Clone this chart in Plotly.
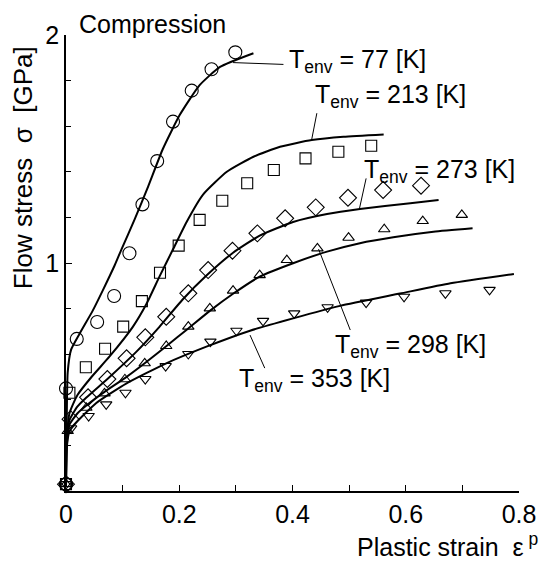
import plotly.graph_objects as go

# measured points (open symbols), plastic strain vs flow stress [GPa]
eps_77_pts = [0.0, 0.0, 0.019, 0.055, 0.085, 0.112, 0.135, 0.161, 0.189, 0.222, 0.257, 0.299]
sig_77_pts = [0.03, 0.45, 0.667, 0.741, 0.855, 1.043, 1.257, 1.447, 1.620, 1.756, 1.850, 1.924]

eps_213_pts = [0.0, 0.006, 0.035, 0.069, 0.101, 0.134, 0.166, 0.199, 0.236, 0.276, 0.320, 0.367, 0.423, 0.481, 0.539]
sig_213_pts = [0.03, 0.431, 0.543, 0.624, 0.721, 0.833, 0.957, 1.076, 1.189, 1.273, 1.350, 1.408, 1.459, 1.488, 1.514]

eps_273_pts = [0.0, 0.008, 0.039, 0.073, 0.107, 0.140, 0.177, 0.216, 0.251, 0.294, 0.338, 0.387, 0.441, 0.498, 0.560, 0.627]
sig_273_pts = [0.03, 0.315, 0.411, 0.491, 0.582, 0.674, 0.764, 0.867, 0.969, 1.054, 1.130, 1.196, 1.244, 1.286, 1.320, 1.339]

eps_298_pts = [0.0, 0.003, 0.036, 0.068, 0.104, 0.139, 0.177, 0.216, 0.254, 0.295, 0.342, 0.390, 0.444, 0.499, 0.562, 0.630, 0.699]
sig_298_pts = [0.03, 0.263, 0.365, 0.428, 0.490, 0.560, 0.636, 0.721, 0.801, 0.879, 0.947, 1.013, 1.064, 1.111, 1.148, 1.184, 1.211]

eps_353_pts = [0.0, 0.009, 0.040, 0.071, 0.105, 0.140, 0.176, 0.216, 0.255, 0.301, 0.348, 0.403, 0.462, 0.530, 0.597, 0.670, 0.748]
sig_353_pts = [0.03, 0.275, 0.329, 0.380, 0.431, 0.491, 0.548, 0.601, 0.655, 0.703, 0.746, 0.779, 0.806, 0.826, 0.852, 0.867, 0.882]

# model curves
eps_77 = [0, 0.001, 0.003, 0.009, 0.024, 0.047, 0.065, 0.086, 0.098, 0.121, 0.145, 0.171, 0.201, 0.236, 0.272, 0.331]
sig_77 = [0.02, 0.25, 0.52, 0.62, 0.69, 0.79, 0.88, 0.99, 1.06, 1.19, 1.335, 1.50, 1.65, 1.78, 1.86, 1.92]

eps_213 = [0, 0.001, 0.006, 0.02, 0.045, 0.077, 0.118, 0.142, 0.165, 0.189, 0.213, 0.242, 0.284, 0.331, 0.378, 0.434, 0.49, 0.561]
sig_213 = [0.02, 0.20, 0.34, 0.42, 0.50, 0.59, 0.72, 0.82, 0.94, 1.06, 1.18, 1.30, 1.40, 1.466, 1.51, 1.539, 1.554, 1.564]

eps_273 = [0, 0.001, 0.006, 0.02, 0.036, 0.077, 0.124, 0.165, 0.206, 0.248, 0.295, 0.342, 0.401, 0.461, 0.519, 0.608, 0.658]
sig_273 = [0.02, 0.20, 0.31, 0.37, 0.41, 0.50, 0.61, 0.72, 0.84, 0.945, 1.045, 1.12, 1.18, 1.215, 1.237, 1.262, 1.276]

eps_298 = [0, 0.001, 0.006, 0.02, 0.036, 0.068, 0.104, 0.139, 0.177, 0.216, 0.254, 0.295, 0.342, 0.401, 0.461, 0.519, 0.578, 0.649, 0.718]
sig_298 = [0.02, 0.19, 0.29, 0.34, 0.375, 0.435, 0.495, 0.56, 0.635, 0.713, 0.79, 0.865, 0.94, 0.999, 1.05, 1.087, 1.113, 1.137, 1.152]

eps_353 = [0, 0.001, 0.006, 0.018, 0.053, 0.107, 0.177, 0.248, 0.325, 0.401, 0.484, 0.59, 0.679, 0.791]
sig_353 = [0.02, 0.18, 0.26, 0.30, 0.385, 0.472, 0.56, 0.633, 0.703, 0.757, 0.812, 0.866, 0.911, 0.952]

temps = ["77", "213", "273", "298", "353"]
symbols = ["circle-open", "square-open", "diamond-open", "triangle-up-open", "triangle-down-open"]
sizes = [13, 11, 13, 10, 10]

# label text position (left edge) and leader line (curve point -> label end)
label_pos = [(0.390, 1.886), (0.436, 1.732), (0.523, 1.405), (0.472, 0.636), (0.302, 0.487)]
leaders = [((0.295, 1.879), (0.384, 1.871)),
           ((0.434, 1.543), (0.443, 1.657)),
           ((0.518, 1.236), (0.530, 1.371)),
           ((0.446, 1.061), (0.502, 0.706)),
           ((0.325, 0.684), (0.351, 0.539))]

FONT = "Liberation Sans, Arial, sans-serif"

curves = [(eps_77, sig_77), (eps_213, sig_213), (eps_273, sig_273), (eps_298, sig_298), (eps_353, sig_353)]
points = [(eps_77_pts, sig_77_pts), (eps_213_pts, sig_213_pts), (eps_273_pts, sig_273_pts),
          (eps_298_pts, sig_298_pts), (eps_353_pts, sig_353_pts)]

fig = go.Figure()
for (cx, cy) in curves:
    fig.add_trace(go.Scatter(x=cx, y=cy, mode="lines", line=dict(color="black", width=2, shape="spline", smoothing=0.5),
                             cliponaxis=False, showlegend=False, hoverinfo="skip"))
for (px_, py_), sym, sz in zip(points, symbols, sizes):
    fig.add_trace(go.Scatter(x=px_, y=py_, mode="markers",
                             marker=dict(symbol=sym, size=sz, color="black", line=dict(width=1.1, color="black")),
                             cliponaxis=False, showlegend=False))

for t, (lx, ly), ((x0, y0), (x1, y1)) in zip(temps, label_pos, leaders):
    fig.add_annotation(x=lx, y=ly, xref="x", yref="y", xanchor="left", yanchor="middle",
                       text="T<sub>env</sub> = %s [K]" % t, showarrow=False,
                       font=dict(family=FONT, size=25, color="black"))
    fig.add_shape(type="line", x0=x0, y0=y0, x1=x1, y1=y1, xref="x", yref="y",
                  line=dict(color="black", width=1))

fig.add_annotation(x=0.024, y=1.024, xref="paper", yref="paper", xanchor="left", yanchor="middle",
                   text="Compression", showarrow=False, font=dict(family=FONT, size=25, color="black"))
fig.add_annotation(x=-0.095, y=0.71, xref="paper", yref="paper", xanchor="center", yanchor="middle", textangle=-90,
                   text="Flow stress  σ  [GPa]", showarrow=False, font=dict(family=FONT, size=26, color="black"))
fig.add_annotation(x=1.046, y=-0.118, xref="paper", yref="paper", xanchor="right", yanchor="middle",
                   text="Plastic strain  ε<sup> p</sup>", showarrow=False, font=dict(family=FONT, size=25, color="black"))

fig.update_xaxes(range=[0, 0.8], tickvals=[0, 0.2, 0.4, 0.6, 0.8], ticktext=["0", "0.2", "0.4", "0.6", "0.8"],
                 ticks="inside", ticklen=6, tickwidth=1, tickcolor="black",
                 minor=dict(dtick=0.1, ticks="inside", ticklen=6, tickcolor="black"),
                 showline=True, linecolor="black", linewidth=2, showgrid=False, zeroline=False, automargin=False,
                 tickfont=dict(family=FONT, size=25, color="black"))
fig.update_yaxes(range=[0, 2], tickvals=[1, 2], ticks="inside", ticklen=6, tickwidth=1, tickcolor="black",
                 minor=dict(dtick=0.2, ticks="inside", ticklen=5, tickcolor="black"),
                 showline=True, linecolor="black", linewidth=1.5, showgrid=False, zeroline=False, automargin=False,
                 tickfont=dict(family=FONT, size=25, color="black"))
fig.update_layout(width=542, height=561, margin=dict(l=66, r=23, t=35, b=70, autoexpand=False),
                  plot_bgcolor="white", paper_bgcolor="white")
fig.write_html("out.html", config={"displayModeBar": False},
               post_script="document.body.style.margin='0px';")
